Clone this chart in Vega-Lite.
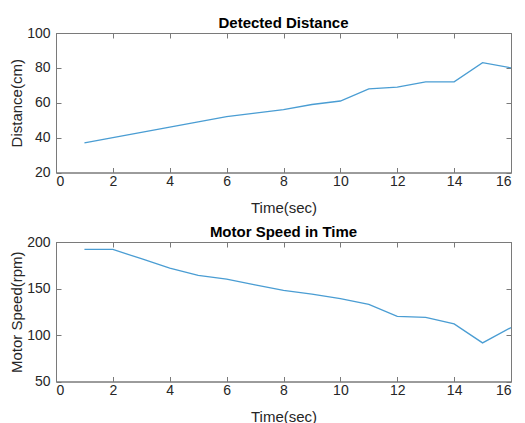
{
  "$schema": "https://vega.github.io/schema/vega-lite/v6.json",
  "background": "white",
  "padding": {"left": 9, "top": 15, "right": 5, "bottom": 2},
  "spacing": 69,
  "bounds": "flush",
  "data": {"values": [
    {"t": 1, "distance": 37, "speed": 192},
    {"t": 2, "distance": 40, "speed": 192},
    {"t": 3, "distance": 43, "speed": 182},
    {"t": 4, "distance": 46, "speed": 172},
    {"t": 5, "distance": 49, "speed": 164},
    {"t": 6, "distance": 52, "speed": 160},
    {"t": 7, "distance": 54, "speed": 154},
    {"t": 8, "distance": 56, "speed": 148},
    {"t": 9, "distance": 59, "speed": 144},
    {"t": 10, "distance": 61, "speed": 139},
    {"t": 11, "distance": 68, "speed": 133},
    {"t": 12, "distance": 69, "speed": 120},
    {"t": 13, "distance": 72, "speed": 119},
    {"t": 14, "distance": 72, "speed": 112},
    {"t": 15, "distance": 83, "speed": 91.5},
    {"t": 16, "distance": 80, "speed": 108}
  ]},
  "config": {
    "font": "Liberation Sans",
    "view": {"stroke": "#7a7a7a", "strokeWidth": 1},
    "axis": {
      "grid": false,
      "domainColor": "#7a7a7a",
      "tickColor": "#7a7a7a",
      "tickSize": -5,
      "labelFont": "Liberation Sans",
      "labelFontSize": 14,
      "labelColor": "#262626",
      "titleFont": "Liberation Sans",
      "titleFontSize": 15,
      "titleFontWeight": "normal",
      "titleColor": "#262626"
    },
    "title": {"font": "Liberation Sans", "fontSize": 15, "fontWeight": "bold", "color": "#000000", "baseline": "alphabetic", "offset": -5, "frame": "group"}
  },
  "vconcat": [
    {
      "title": "Detected Distance",
      "width": 455,
      "height": 139.5,
      "layer": [
        {
          "mark": {"type": "line", "color": "#4a9dd3", "strokeWidth": 1.3},
          "encoding": {
            "x": {"field": "t", "type": "quantitative", "scale": {"domain": [0, 16], "nice": false}, "axis": {"orient": "bottom", "values": [0, 2, 4, 6, 8, 10, 12, 14, 16], "title": "Time(sec)", "labelPadding": 6.5, "titlePadding": 12}},
            "y": {"field": "distance", "type": "quantitative", "scale": {"domain": [20, 100], "nice": false, "zero": false}, "axis": {"orient": "left", "values": [20, 40, 60, 80, 100], "title": "Distance(cm)", "labelPadding": 11, "titlePadding": 2}}
          }
        },
        {
          "mark": {"type": "line", "opacity": 0},
          "encoding": {
            "x": {"field": "t", "type": "quantitative", "scale": {"domain": [0, 16], "nice": false}, "axis": {"orient": "top", "values": [0, 2, 4, 6, 8, 10, 12, 14, 16], "labels": false, "title": null}},
            "y": {"field": "distance", "type": "quantitative", "scale": {"domain": [20, 100], "nice": false, "zero": false}, "axis": {"orient": "right", "values": [20, 40, 60, 80, 100], "labels": false, "title": null}}
          }
        }
      ],
      "resolve": {"axis": {"x": "independent", "y": "independent"}}
    },
    {
      "title": "Motor Speed in Time",
      "width": 455,
      "height": 139.5,
      "layer": [
        {
          "mark": {"type": "line", "color": "#4a9dd3", "strokeWidth": 1.3},
          "encoding": {
            "x": {"field": "t", "type": "quantitative", "scale": {"domain": [0, 16], "nice": false}, "axis": {"orient": "bottom", "values": [0, 2, 4, 6, 8, 10, 12, 14, 16], "title": "Time(sec)", "labelPadding": 6.5, "titlePadding": 12}},
            "y": {"field": "speed", "type": "quantitative", "scale": {"domain": [50, 200], "nice": false, "zero": false}, "axis": {"orient": "left", "values": [50, 100, 150, 200], "title": "Motor Speed(rpm)", "labelPadding": 11, "titlePadding": 2}}
          }
        },
        {
          "mark": {"type": "line", "opacity": 0},
          "encoding": {
            "x": {"field": "t", "type": "quantitative", "scale": {"domain": [0, 16], "nice": false}, "axis": {"orient": "top", "values": [0, 2, 4, 6, 8, 10, 12, 14, 16], "labels": false, "title": null}},
            "y": {"field": "speed", "type": "quantitative", "scale": {"domain": [50, 200], "nice": false, "zero": false}, "axis": {"orient": "right", "values": [50, 100, 150, 200], "labels": false, "title": null}}
          }
        }
      ],
      "resolve": {"axis": {"x": "independent", "y": "independent"}}
    }
  ]
}
